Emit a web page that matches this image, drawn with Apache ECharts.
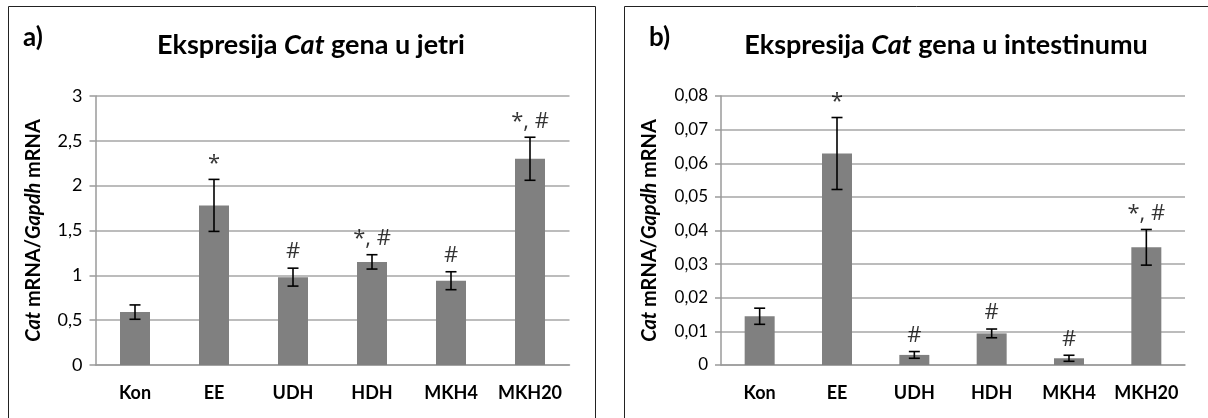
<!DOCTYPE html>
<html><head><meta charset="utf-8">
<script src="https://cdn.jsdelivr.net/npm/echarts@6/dist/echarts.min.js"></script>
<style>html,body{margin:0;padding:0;background:#fff}#c{width:1208px;height:418px}</style>
</head><body><div id="c"></div>
<script>
const categories = ['Kon','EE','UDH','HDH','MKH4','MKH20'];
// a) liver
const liverMean = [0.59, 1.78, 0.98, 1.15, 0.94, 2.30];
const liverErr  = [0.08, 0.29, 0.10, 0.08, 0.10, 0.24];
const liverSig  = ['', '*', '#', '*, #', '#', '*, #'];
const liverTicks = {min: 0, max: 3, interval: 0.5};
// b) intestine
const intMean = [0.0145, 0.0629, 0.0030, 0.0094, 0.0020, 0.0350];
const intErr  = [0.0024, 0.0107, 0.0010, 0.0013, 0.0009, 0.0053];
const intSig  = ['', '*', '#', '#', '#', '*, #'];
const intTicks = {min: 0, max: 0.08, interval: 0.01};

const FONT = 'Lato, "Open Sans", sans-serif';
const chart = echarts.init(document.getElementById('c'), null, {renderer: 'canvas'});

function fmt(dec){
  return v => {
    if (v === 0) return '0';
    const r = Math.round(v*Math.pow(10,dec))/Math.pow(10,dec);
    return String(r).replace('.', ',');
  };
}
function errData(mean, err){
  return mean.map((m,i)=>[i, m-err[i], m+err[i]]);
}
function errRender(params, api){
  const x = api.value(0);
  const lo = api.coord([x, api.value(1)]);
  const hi = api.coord([x, api.value(2)]);
  const cw = 5.5;
  const st = {stroke: '#000', lineWidth: 1.6};
  return {type:'group', children: [
    {type:'line', shape:{x1:hi[0],y1:hi[1],x2:lo[0],y2:lo[1]}, style:st},
    {type:'line', shape:{x1:hi[0]-cw,y1:hi[1],x2:hi[0]+cw,y2:hi[1]}, style:st},
    {type:'line', shape:{x1:lo[0]-cw,y1:lo[1],x2:lo[0]+cw,y2:lo[1]}, style:st}
  ]};
}

function panel(idx, mean, err, sig){
  const common = {xAxisIndex: idx, yAxisIndex: idx};
  return [
    Object.assign({type:'bar', data: mean, barWidth: 30, itemStyle:{color:'#808080'}, silent:true}, common),
    Object.assign({type:'custom', data: errData(mean, err), renderItem: errRender, silent:true, z:5}, common),
    Object.assign({type:'scatter', data: mean.map((m,i)=>[i, m+err[i]]), symbolSize: 0, silent:true,
      label:{show:true, position:'top', distance: 5, color:'#000', fontFamily: '"Open Sans", sans-serif', fontSize: 22,
        formatter: p => sig[p.dataIndex]}}, common)
  ];
}

const yName = '{i|Cat} mRNA/{i|Gapdh} mRNA';
const yNameStyle = {fontFamily: FONT, fontWeight:'bold', fontSize: 20, color:'#000',
  rich:{i:{fontStyle:'italic', fontWeight:'bold', fontFamily: FONT, fontSize: 20, color:'#000'}}};

function xAxis(gi){
  return {type:'category', gridIndex: gi, data: categories,
    axisLine:{show:true, lineStyle:{color:'#9a9a9a', width:1.5}}, axisTick:{show:false},
    axisLabel:{interval: 0, hideOverlap: false, fontFamily: FONT, fontWeight:'bold', fontSize: 18, color:'#000', margin: 19}};
}
function yAxis(gi, t, dec, nameGap, fs){
  return {type:'value', gridIndex: gi, min: t.min, max: t.max, interval: t.interval,
    name: yName, nameLocation:'middle', nameGap: nameGap, nameRotate: 90, nameTextStyle: yNameStyle,
    axisLine:{show:true, lineStyle:{color:'#9a9a9a', width:1.5}},
    axisTick:{show:true, length:6, lineStyle:{color:'#9a9a9a', width:1.5}},
    splitLine:{show:true, lineStyle:{color:'#a6a6a6', width:1.5}},
    axisLabel:{fontFamily: FONT, fontSize: fs, color:'#000', formatter: fmt(dec), margin: 13}};
}

function titleText(x, txt){
  return {type:'text', x: x, y: 45, style:{text: txt, align:'center', verticalAlign:'middle',
    font: 'bold 27px ' + FONT, fill:'#000',
    rich:{i:{fontFamily: FONT, fontWeight:'bold', fontStyle:'italic', fontSize:27, fill:'#000'},
          n:{fontFamily: FONT, fontWeight:'bold', fontSize:27, fill:'#000'}}}};
}

chart.setOption({
  animation: false,
  backgroundColor: '#fff',
  graphic: [
    {type:'rect', shape:{x:8.5, y:6.5, width:587, height:420}, style:{fill:'none', stroke:'#222', lineWidth:1}},
    {type:'rect', shape:{x:624.5, y:6.5, width:590, height:420}, style:{fill:'none', stroke:'#222', lineWidth:1}},
    {type:'text', x: 23, y: 38, style:{text:'a)', font:'bold 26px ' + FONT, fill:'#000', verticalAlign:'middle'}},
    {type:'text', x: 649, y: 38, style:{text:'b)', font:'bold 26px ' + FONT, fill:'#000', verticalAlign:'middle'}},
    titleText(311, '{n|Ekspresija }{i|Cat}{n| gena u jetri}'),
    titleText(946, '{n|Ekspresija }{i|Cat}{n| gena u intestinumu}')
  ],
  grid: [
    {left: 95.5, right: 1208-569.5, top: 96, bottom: 418-365},
    {left: 721, right: 1208-1185, top: 96, bottom: 418-365}
  ],
  xAxis: [xAxis(0), xAxis(1)],
  yAxis: [yAxis(0, liverTicks, 1, 52, 18), yAxis(1, intTicks, 2, 61, 17)],
  series: [].concat(panel(0, liverMean, liverErr, liverSig), panel(1, intMean, intErr, intSig))
});
</script></body></html>
